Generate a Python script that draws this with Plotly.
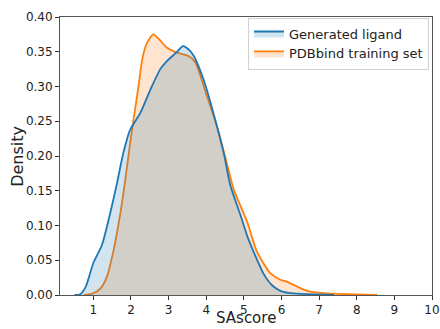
import plotly.graph_objects as go

# Generated ligand density (KDE)
gen_x = [0.5, 0.65, 0.8, 1.0, 1.23, 1.45, 1.63, 1.8, 1.98, 2.25, 2.52, 2.78, 2.96, 3.21, 3.38,
         3.52, 3.67, 3.93, 4.2, 4.47, 4.64, 4.91, 5.09, 5.26, 5.53, 5.75, 5.97, 6.2, 6.42, 6.86, 7.4]
gen_y = [0.0, 0.001, 0.012, 0.046, 0.072, 0.118, 0.161, 0.205, 0.238, 0.262, 0.296, 0.325, 0.337, 0.349, 0.358,
         0.354, 0.344, 0.31, 0.26, 0.203, 0.158, 0.115, 0.085, 0.062, 0.03, 0.014, 0.006, 0.003, 0.002, 0.0008, 0.0]

# PDBbind training set density
pdb_x = [0.75, 1.0, 1.2, 1.36, 1.54, 1.72, 1.85, 1.98, 2.07, 2.2, 2.3, 2.42, 2.59, 2.75, 2.95, 3.21,
         3.53, 3.71, 4.02, 4.3, 4.5, 4.73, 5.09, 5.35, 5.71, 5.97, 6.15, 6.42, 6.68, 7.04, 7.5, 8.0, 8.54]
pdb_y = [0.0, 0.0025, 0.01, 0.026, 0.065, 0.118, 0.166, 0.219, 0.253, 0.30, 0.339, 0.362, 0.375, 0.368, 0.356, 0.349,
         0.344, 0.335, 0.286, 0.24, 0.2, 0.152, 0.105, 0.062, 0.031, 0.022, 0.019, 0.012, 0.006, 0.003, 0.0015, 0.0007, 0.0]

x_ticks = [1, 2, 3, 4, 5, 6, 7, 8, 9, 10]
y_ticks = [0.0, 0.05, 0.10, 0.15, 0.20, 0.25, 0.30, 0.35, 0.40]
x_title = "SAscore"
y_title = "Density"

BLUE = "#1f77b4"
ORANGE = "#ff7f0e"

fig = go.Figure()
fig.add_trace(go.Scatter(
    x=pdb_x, y=pdb_y, mode="lines", name="PDBbind training set",
    line=dict(color=ORANGE, width=1.8, shape="spline", smoothing=0.6),
    fill="tozeroy", fillcolor="rgba(255,127,14,0.2)", legendrank=2))
fig.add_trace(go.Scatter(
    x=gen_x, y=gen_y, mode="lines", name="Generated ligand",
    line=dict(color=BLUE, width=1.8, shape="spline", smoothing=0.6),
    fill="tozeroy", fillcolor="rgba(31,119,180,0.2)", legendrank=1))

axis_common = dict(showline=True, mirror=True, linecolor="#555", linewidth=1, automargin=False,
                   ticks="outside", ticklen=4, tickcolor="#333", showgrid=False, zeroline=False,
                   tickfont=dict(family="DejaVu Sans", size=12, color="#222"))

fig.update_layout(
    width=440, height=329,
    margin=dict(l=60, r=8, t=17, b=34),
    paper_bgcolor="white", plot_bgcolor="white",
    font=dict(family="DejaVu Sans", color="#222"),
    xaxis=dict(range=[0.115, 10], tickvals=x_ticks, ticktext=[str(v) for v in x_ticks], **axis_common),
    yaxis=dict(range=[0, 0.40], tickvals=y_ticks, ticktext=[f"{v:.2f}" for v in y_ticks], **axis_common),
    legend=dict(x=0.992, y=0.998, xanchor="right", yanchor="top",
                bgcolor="rgba(255,255,255,0.8)", bordercolor="#d0d0d0", borderwidth=1,
                font=dict(family="DejaVu Sans", size=13, color="#222"),
                tracegroupgap=0, itemwidth=30),
    showlegend=True,
    annotations=[
        dict(text=x_title, xref="paper", yref="paper", x=0.5, y=-0.124,
             xanchor="center", yanchor="bottom", showarrow=False,
             font=dict(family="DejaVu Sans", size=15, color="#222")),
        dict(text=y_title, xref="paper", yref="paper", x=-0.116, y=0.5, textangle=-90,
             xanchor="center", yanchor="middle", showarrow=False,
             font=dict(family="DejaVu Sans", size=16, color="#222")),
    ],
)

fig.write_html("out.html")
